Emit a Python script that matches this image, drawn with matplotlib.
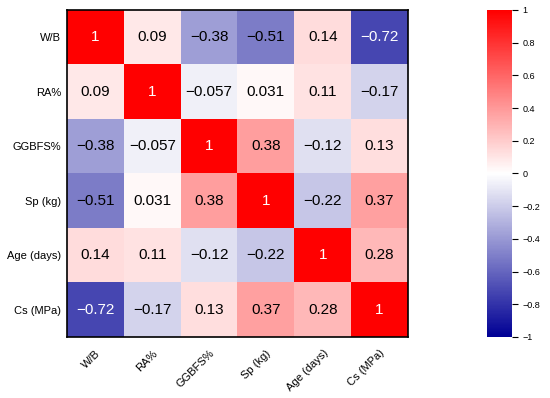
import numpy as np
import matplotlib
matplotlib.use('Agg')
import matplotlib.pyplot as plt
from matplotlib.colors import LinearSegmentedColormap

plt.rcParams['font.family'] = ['Liberation Sans', 'DejaVu Sans']

labels = ['W/B', 'RA%', 'GGBFS%', 'Sp (kg)', 'Age (days)', 'Cs (MPa)']

# correlation matrix
row_wb = [1, 0.09, -0.38, -0.51, 0.14, -0.72]
row_ra = [0.09, 1, -0.057, 0.031, 0.11, -0.17]
row_gg = [-0.38, -0.057, 1, 0.38, -0.12, 0.13]
row_sp = [-0.51, 0.031, 0.38, 1, -0.22, 0.37]
row_age = [0.14, 0.11, -0.12, -0.22, 1, 0.28]
row_cs = [-0.72, -0.17, 0.13, 0.37, 0.28, 1]

corr = np.array([row_wb, row_ra, row_gg, row_sp, row_age, row_cs])

cmap = LinearSegmentedColormap.from_list(
    'bwr_dark', [(0.0, 0.0, 0.58), (1, 1, 1), (1, 0, 0)])

fig = plt.figure(figsize=(5.5, 3.98), dpi=100)
ax = fig.add_axes([0.1218, 0.1533, 0.62, 0.8216])
cax = fig.add_axes([0.8855, 0.1533, 0.0455, 0.8216])

im = ax.imshow(corr, cmap=cmap, vmin=-1, vmax=1, aspect='auto',
               interpolation='nearest')

n = len(labels)
for i in range(n):
    for j in range(n):
        v = corr[i, j]
        txt = '{:.2g}'.format(v).replace('-', '\u2212')
        col = 'white' if abs(v) > 0.6 else 'black'
        ax.text(j, i, txt, ha='center', va='center', fontsize=11, color=col)

ax.set_xticks(range(n))
ax.set_yticks(range(n))
ax.set_xticklabels(labels, rotation=45, ha='right', rotation_mode='anchor',
                   fontsize=8)
ax.set_yticklabels(labels, fontsize=8)
ax.tick_params(axis='y', length=0, pad=4)
ax.tick_params(axis='x', length=0, pad=8)
for s in ax.spines.values():
    s.set_linewidth(1.2)
    s.set_color('black')

cb = fig.colorbar(im, cax=cax)
cb.set_ticks(np.linspace(-1, 1, 11))
cb.set_ticklabels(['\u22121', '\u22120.8', '\u22120.6', '\u22120.4', '\u22120.2',
                   '0', '0.2', '0.4', '0.6', '0.8', '1'])
cb.ax.tick_params(labelsize=6.5, length=4, width=0.8)
cb.outline.set_visible(False)

fig.savefig('out.png', dpi=100)
